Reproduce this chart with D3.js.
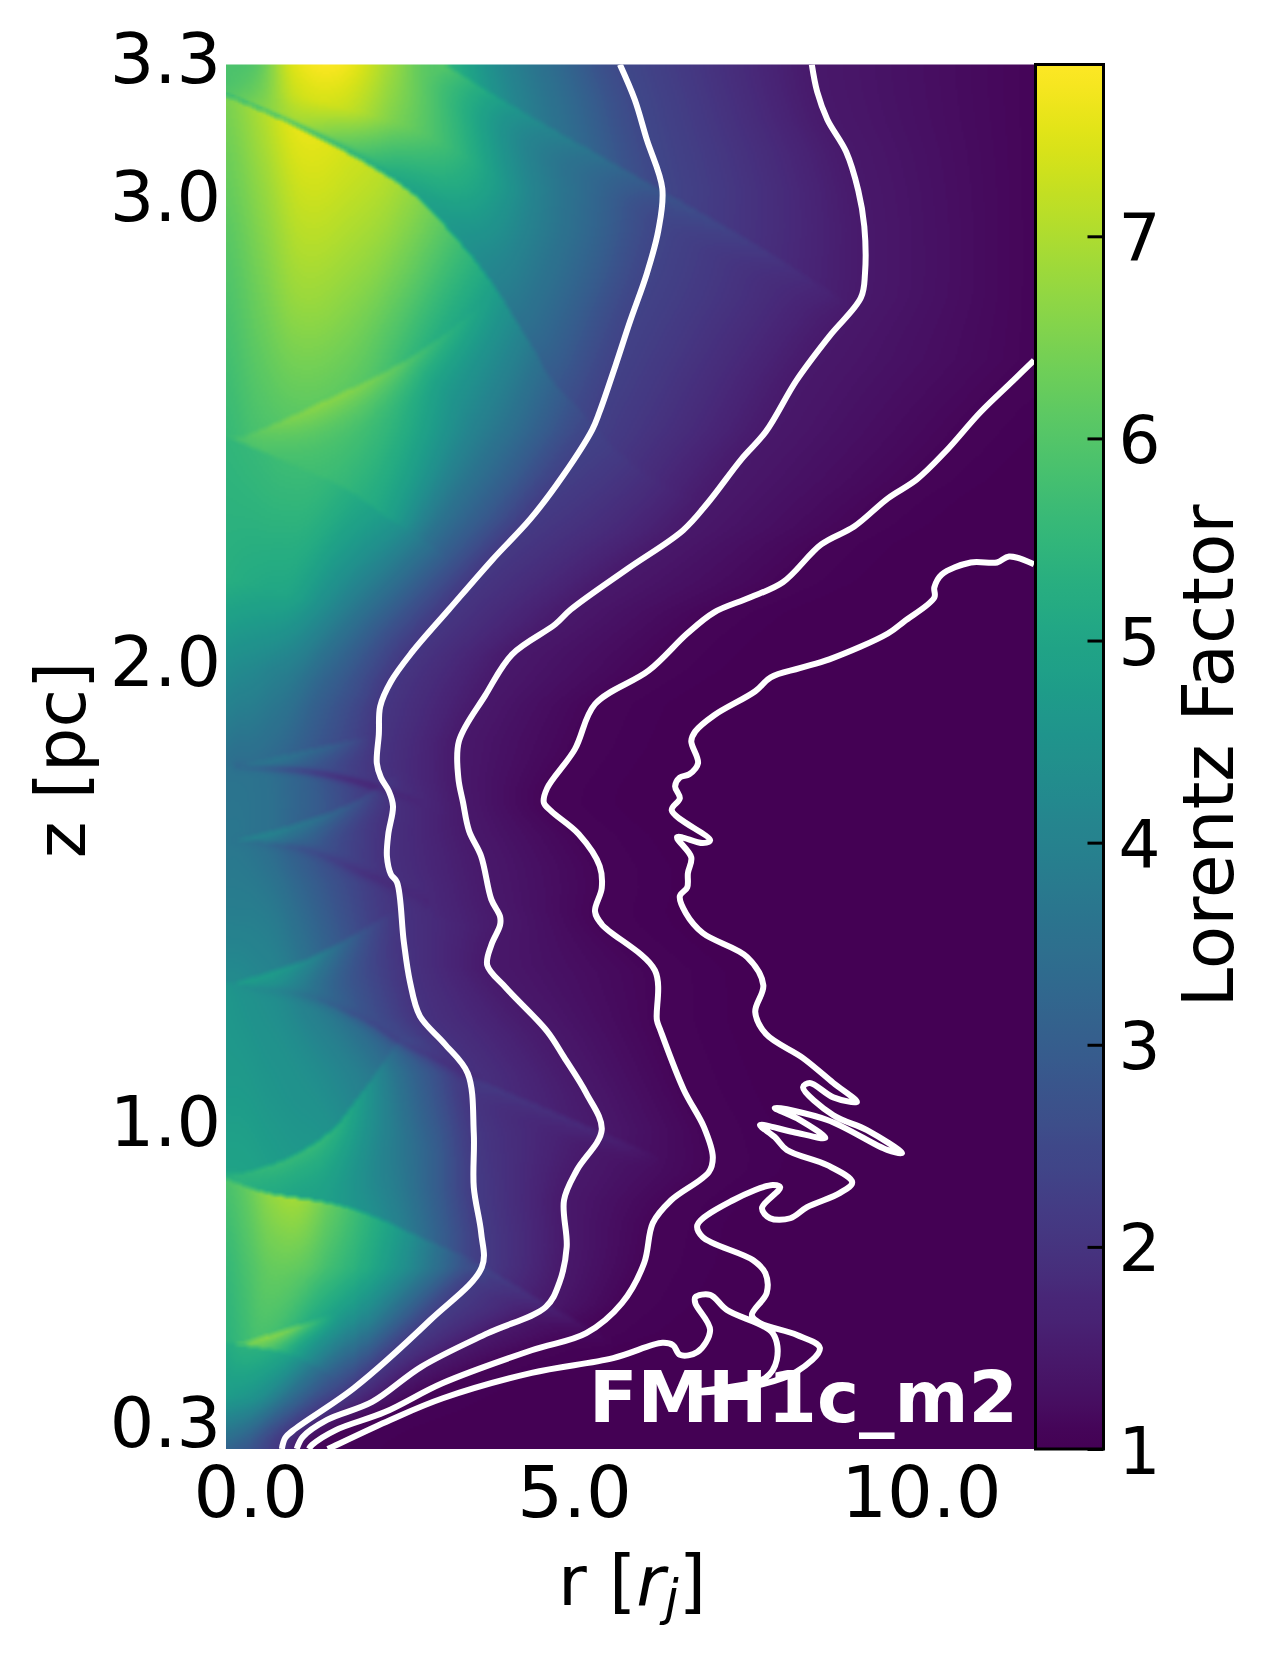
<!DOCTYPE html>
<html><head><meta charset="utf-8">
<script src="https://cdn.jsdelivr.net/npm/d3@7"></script>
<style>html,body{margin:0;padding:0;background:#fff}svg{display:block}text{font-family:"DejaVu Sans",sans-serif}</style>
</head><body><div id="chart"></div>
<script>
// ---------- axes ----------
const rDomain = [0, 12];
const zDomain = [0.3, 3.3];
const gammaDomain = [1, 7.85];
const rTickAt = [0.36, 5.17, 10.32];
const rTickLabels = ["0.0", "5.0", "10.0"];
const zTickAt = [3.317, 3.017, 2.01, 1.013, 0.361];
const zTickLabels = ["3.3", "3.0", "2.0", "1.0", "0.3"];
const gammaTicks = [1, 2, 3, 4, 5, 6, 7];
const modelName = "FMH1c_m2";

// ---------- Lorentz factor contours [r, z] ----------
const contour1 = [[5.85,3.30],[6.07,3.224],[6.25,3.137],[6.48,3.031],[6.42,2.94],[6.25,2.847],[6.00,2.743],[5.79,2.65],[5.55,2.548],[5.44,2.509],[5.01,2.41],[4.53,2.317],[3.95,2.226],[3.31,2.119],[2.76,2.026],[2.45,1.963],[2.29,1.909],[2.27,1.849],[2.24,1.786],[2.30,1.755],[2.42,1.725],[2.48,1.693],[2.41,1.632],[2.39,1.584],[2.45,1.545],[2.54,1.528],[2.64,1.40],[2.73,1.314],[2.88,1.238],[3.24,1.179],[3.59,1.114],[3.68,0.984],[3.68,0.867],[3.79,0.768],[3.80,0.694],[3.03,0.579],[1.90,0.432],[1.04,0.345],[0.88,0.324],[0.83,0.30]];
const contour2 = [[8.70,3.30],[8.78,3.241],[8.93,3.181],[9.21,3.111],[9.39,3.027],[9.48,2.949],[9.49,2.847],[9.43,2.795],[8.96,2.711],[8.47,2.615],[8.02,2.505],[7.65,2.444],[7.16,2.351],[6.79,2.291],[5.97,2.208],[5.12,2.119],[4.89,2.087],[4.25,2.022],[3.85,1.933],[3.46,1.834],[3.45,1.755],[3.52,1.701],[3.61,1.639],[3.79,1.584],[3.94,1.491],[4.07,1.454],[4.07,1.435],[3.94,1.392],[3.88,1.348],[4.16,1.299],[4.77,1.205],[5.02,1.149],[5.35,1.071],[5.58,0.991],[5.21,0.904],[5.02,0.839],[5.06,0.738],[4.95,0.66],[4.75,0.608],[3.89,0.551],[2.90,0.478],[2.17,0.402],[1.50,0.363],[1.14,0.326],[1.05,0.30]];
const contour3 = [[12.0,2.659],[11.69,2.615],[11.20,2.546],[10.69,2.462],[10.26,2.401],[9.83,2.36],[9.33,2.299],[8.84,2.26],[8.27,2.178],[7.78,2.145],[7.25,2.113],[6.85,2.067],[6.28,1.987],[5.48,1.914],[5.18,1.816],[4.77,1.732],[4.72,1.701],[4.83,1.682],[5.24,1.632],[5.55,1.563],[5.58,1.515],[5.48,1.465],[5.58,1.437],[6.37,1.337],[6.40,1.229],[6.45,1.208],[6.80,1.078],[7.10,0.997],[7.23,0.932],[7.17,0.90],[6.61,0.839],[6.34,0.79],[6.21,0.703],[5.88,0.616],[5.35,0.551],[4.54,0.514],[3.22,0.443],[2.36,0.38],[1.63,0.341],[1.28,0.309],[1.23,0.30]];
const contour4 = [[12.0,2.217],[11.63,2.234],[11.45,2.221],[11.06,2.221],[10.63,2.195],[10.52,2.167],[10.52,2.145],[10.07,2.093],[9.83,2.067],[8.96,2.011],[8.52,1.992],[8.09,1.972],[7.86,1.942],[7.25,1.89],[6.97,1.855],[6.91,1.834],[7.01,1.786],[6.88,1.762],[6.74,1.755],[6.67,1.736],[6.74,1.71],[6.62,1.684],[7.19,1.619],[7.08,1.613],[6.70,1.626],[6.91,1.582],[6.86,1.548],[6.85,1.517],[6.74,1.498],[6.83,1.461],[7.08,1.418],[7.74,1.366],[7.98,1.305],[7.86,1.247],[8.02,1.199],[8.57,1.147],[9.02,1.093],[9.37,1.052],[9.02,1.062],[8.67,1.093],[8.57,1.084],[9.02,1.023],[9.52,0.991],[10.04,0.941],[9.82,0.948],[8.93,1.013],[8.15,1.039],[8.52,1.013],[8.90,0.974],[8.42,0.987],[7.93,1.002],[8.15,0.976],[8.33,0.948],[8.93,0.915],[9.30,0.878],[9.12,0.855],[8.63,0.824],[8.38,0.80],[8.08,0.80],[7.96,0.822],[8.23,0.867],[8.12,0.872],[7.53,0.839],[7.00,0.785],[7.08,0.759],[7.83,0.709],[8.01,0.681],[8.03,0.638],[7.81,0.59],[7.93,0.573],[8.48,0.547],[8.82,0.519],[8.47,0.467],[7.71,0.432],[6.94,0.423],[8.01,0.454],[8.18,0.493],[8.12,0.551],[7.44,0.601],[7.19,0.634],[6.97,0.629],[6.97,0.616],[7.19,0.558],[7.00,0.51],[6.74,0.504],[6.64,0.525],[6.48,0.53],[5.75,0.497],[4.54,0.465],[3.22,0.41],[2.44,0.363],[1.57,0.304],[1.51,0.30]];

// ---------- shock fronts in the heat map [r, z] ----------
const shock0 = [[0,3.233],[0.89,3.176],[1.80,3.109],[2.70,3.029],[3.31,2.942],[3.92,2.834],[4.52,2.696],[5.12,2.572],[7.04,2.356],[12,2.226]];
const shock1 = [[0,2.494],[0.89,2.44],[1.80,2.379],[2.41,2.317],[3.33,2.226],[5.55,1.944],[12,1.706]];
const shock2 = [[0,1.782],[1.13,1.771],[2.03,1.745],[2.94,1.701],[3.85,1.662],[12,1.576]];
const shock3 = [[0,1.623],[1.13,1.604],[2.03,1.55],[2.94,1.491],[3.85,1.435],[12,1.273]];
const shock4 = [[0,1.312],[1.13,1.283],[2.03,1.229],[2.64,1.175],[3.68,1.106],[5.54,0.991],[12,0.839]];
const shock5 = [[0,0.887],[0.58,0.857],[1.57,0.833],[2.23,0.803],[2.90,0.759],[3.76,0.703],[4.68,0.623],[12,0.406]];
const shock6 = [[0,0.532],[0.91,0.508],[1.44,0.471],[1.99,0.406],[2.88,0.319],[12,0.304]];

// ---------- Lorentz factor across the jet, at fractions of r / r(contour1) ----------
const uColumns = [0, 0.08, 0.17, 0.28, 0.4, 0.55, 0.7, 0.85, 1];
// each row: position between the shock above (0) and the shock below (1), then the values
const cellTop = [[0,5.9,6.1,7.5,7.8,7.0,5.6,4.2,3.3,2.5],[0.5,5.9,6.3,7.3,7.3,6.5,5.5,4.1,3.2,2.4],[0.9,6.0,6.5,6.9,6.2,5.3,4.6,3.8,3.0,2.3],[1,5.2,5.3,5.4,5.3,5.0,4.5,3.7,2.9,2.3]];
const cell0 = [[0,6.5,7.0,7.6,7.4,6.9,5.7,4.4,3.2,2.4],[0.5,6.0,6.4,6.8,6.6,6.0,4.9,3.9,3.0,2.2],[1,5.6,5.8,5.8,5.7,5.4,4.8,3.6,2.8,2.1]];
const cell1 = [[0,5.5,5.6,5.7,5.6,5.2,4.6,3.7,2.8,2.1],[0.43,5.3,5.2,5.1,5.0,4.5,3.8,3.1,2.5,2.1],[0.69,4.4,4.3,4.2,4.0,3.8,3.3,2.9,2.5,2.1],[1,3.5,3.4,3.4,3.3,3.1,2.8,2.5,2.2,2.0]];
const cell2 = [[0,3.6,3.6,3.6,3.5,3.3,3.0,2.6,2.2,1.95],[1,3.7,3.7,3.6,3.5,3.2,2.9,2.5,2.2,1.95]];
const cell3 = [[0,3.7,3.7,3.6,3.4,3.1,2.8,2.5,2.2,2.0],[0.5,3.9,3.9,3.9,3.8,3.5,3.1,2.7,2.3,2.0],[1,4.3,4.3,4.2,4.1,3.8,3.3,2.8,2.4,2.0]];
const cell4 = [[0,4.6,4.5,4.4,4.3,4.0,3.7,3.2,2.7,2.0],[0.5,4.7,4.7,4.6,4.5,4.4,4.1,3.7,3.0,2.2],[1,5.0,5.0,4.9,4.8,4.8,4.5,3.9,3.0,2.2]];
const cell5 = [[0,5.9,6.2,6.7,6.9,6.3,5.5,4.6,3.4,2.3],[0.5,5.6,5.9,6.2,6.1,5.6,4.9,4.0,3.0,2.2],[1,5.4,5.6,5.8,5.6,5.0,4.1,3.2,2.6,2.1]];
const cell6 = [[0,5.2,5.4,5.4,5.2,4.8,3.9,3.1,2.6,2.1],[0.5,4.8,4.7,4.6,4.4,4.0,3.4,2.9,2.4,2.1],[1,3.1,3.1,3.0,2.9,2.8,2.6,2.4,2.2,2.1]];
const contour2Gamma = 1.45, contour3Gamma = 1.08;

// ---------- thin ridges and dark lines: [r, z, change in Lorentz factor] ----------
const ridgeTop = [[3.25,3.30,0.5],[4.52,3.189,0.5],[5.85,3.079,0.45],[7.90,2.908,0.25],[9.41,2.767,0]];
const ridge1 = [[0.21,2.494,0.2],[1.10,2.55,0.5],[2.70,2.665,0.45],[3.92,2.797,0]];
const ridge2 = [[0.15,1.782,0.3],[1.43,1.825,0.5],[2.15,1.849,0]];
const ridge3 = [[0.15,1.623,0.5],[1.13,1.662,0.7],[1.92,1.708,0.45],[2.58,1.771,0]];
const ridge4 = [[0.09,1.312,0.6],[1.13,1.361,0.8],[1.84,1.413,0.45],[2.58,1.478,0]];
const ridge5 = [[0.25,0.902,0.5],[0.88,0.932,0.9],[1.51,0.989,1.0],[1.97,1.069,0.8],[2.58,1.195,0.1]];
const ridge6 = [[0.21,0.532,0.7],[0.91,0.564,1.0],[1.63,0.597,0]];
const dark2 = [[0.15,1.78,-0.3],[1.13,1.771,-0.8],[2.03,1.745,-0.5],[2.94,1.701,0]];
const dark3 = [[0.15,1.622,-0.1],[1.13,1.604,-0.3],[2.03,1.55,-0.3],[2.94,1.491,-0.1]];
const dark4 = [[0.1,1.31,-0.1],[1.13,1.283,-0.3],[2.03,1.229,-0.3],[2.64,1.175,-0.3],[3.68,1.106,-0.15]];
const edge4 = [[3.68,1.106,0.3],[5.54,0.991,0.3],[6.5,0.93,0]];
const edge5 = [[3.76,0.703,0.3],[4.68,0.623,0.3],[5.8,0.53,0]];

// ---------- layout ----------
const W = 1276, H = 1658, M = {l:226, r:1034, t:64.5, b:1449};
const FS = 70, TICK_FS = 72;
const x = d3.scaleLinear().domain(rDomain).range([M.l, M.r]);
const y = d3.scaleLinear().domain(zDomain).range([M.b, M.t]);
const color = d3.scaleSequential(d3.interpolateViridis).domain(gammaDomain);
const gScale = d3.scaleLinear().domain(gammaDomain).range([M.b, M.t]);

const svg = d3.select("#chart").append("svg").attr("width", W).attr("height", H).attr("viewBox", `0 0 ${W} ${H}`);
const defs = svg.append("defs");
defs.append("clipPath").attr("id","plot").append("rect").attr("x",M.l).attr("y",M.t).attr("width",M.r-M.l).attr("height",M.b-M.t);

// ---------- heat map ----------
function lutColor(){
  const n = 1024, lut = new Uint8Array(n*3);
  for (let i=0;i<n;i++){ const c = d3.rgb(color(gammaDomain[0]+(gammaDomain[1]-gammaDomain[0])*i/(n-1))); lut[i*3]=c.r; lut[i*3+1]=c.g; lut[i*3+2]=c.b; }
  return lut;
}
function rAtZ(line, z){
  for (let i=0;i<line.length-1;i++){
    const a=line[i], b=line[i+1];
    if ((z<=a[1]&&z>=b[1])||(z>=a[1]&&z<=b[1])){
      const t = a[1]===b[1]?0:(z-a[1])/(b[1]-a[1]);
      return a[0]+(b[0]-a[0])*t;
    }
  }
  return line[0][0];
}
function cr(p0,p1,p2,p3,t){
  return 0.5*((2*p1)+(-p0+p2)*t+(2*p0-5*p1+4*p2-p3)*t*t+(-p0+3*p1-3*p2+p3)*t*t*t);
}
// round off a polyline so the drawn fronts have no corners
function rounded(pts, sub=8){
  const out=[], n=pts.length, dim=pts[0].length;
  for (let i=0;i<n-1;i++){
    const a=pts[Math.max(0,i-1)], b=pts[i], c=pts[i+1], d=pts[Math.min(n-1,i+2)];
    for (let s=0;s<sub;s++){ const t=s/sub; out.push(d3.range(dim).map(k=>cr(a[k],b[k],c[k],d[k],t))); }
  }
  out.push(pts[n-1].slice());
  return out;
}
function drawHeat(){
  const step = 2;
  const nx = Math.round((M.r-M.l)/step), ny = Math.round((M.b-M.t)/step);
  const cv = document.createElement("canvas"); cv.width=nx; cv.height=ny;
  const ctx = cv.getContext("2d"), img = ctx.createImageData(nx,ny), lut = lutColor();
  const shocks = [shock0,shock1,shock2,shock3,shock4,shock5,shock6].map(s=>{
    const q=rounded(s).sort((a,b)=>a[0]-b[0]);
    return d3.scaleLinear().domain(q.map(p=>p[0])).range(q.map(p=>p[1]));
  });
  const cells = [cellTop,cell0,cell1,cell2,cell3,cell4,cell5,cell6];
  const rs = d3.range(nx).map(i=>x.invert(M.l+(i+0.5)*step));
  const zs = d3.range(ny).map(j=>y.invert(M.t+(j+0.5)*step));
  const shockZ = shocks.map(s=>rs.map(r=>s(r)));
  const extra = new Float32Array(nx*ny);
  const ridges = [
    {p:ridgeTop,w:35,below:true},{p:ridge1,w:48,below:true,stop:1},{p:ridge2,w:28,below:true,stop:2},{p:ridge3,w:32,below:true,stop:3},
    {p:ridge4,w:42,below:true,stop:4},{p:ridge5,w:75,below:true,stop:5},{p:ridge6,w:26,below:true,stop:6},
    {p:dark2,w:8},{p:dark3,w:12},{p:dark4,w:12},{p:edge4,w:25,below:true},{p:edge5,w:25,below:true}];
  ridges.forEach(rd=>{
    const pts = rounded(rd.p).map(q=>[(x(q[0])-M.l)/step,(y(q[1])-M.t)/step,q[2]]), w = rd.w/step;
    const x0=Math.max(0,Math.floor(d3.min(pts,q=>q[0])-w)), x1=Math.min(nx-1,Math.ceil(d3.max(pts,q=>q[0])+w));
    const y0=Math.max(0,Math.floor(d3.min(pts,q=>q[1])-w)), y1=Math.min(ny-1,Math.ceil(d3.max(pts,q=>q[1])+w));
    for (let j=y0;j<=y1;j++) for (let i=x0;i<=x1;i++){
      if (rd.stop!==undefined && zs[j]<shockZ[rd.stop][i]) continue;
      let best=1e9, amp=0, qyBest=0;
      for (let k=0;k<pts.length-1;k++){
        const a=pts[k], b=pts[k+1], dx=b[0]-a[0], dy=b[1]-a[1], l=dx*dx+dy*dy;
        let t=l>0?((i-a[0])*dx+(j-a[1])*dy)/l:0; t=Math.max(0,Math.min(1,t));
        const qx=a[0]+dx*t, qy=a[1]+dy*t, d=Math.hypot(i-qx,j-qy);
        if (d<best){best=d; amp=a[2]+(b[2]-a[2])*t; qyBest=qy;}
      }
      if (best<w && (!rd.below || j>=qyBest)){ const s=1-best/w; extra[j*nx+i]+=amp*s*s; }
    }
  });
  const field = new Float32Array(nx*ny);
  const pick=(row,idx)=>row[1+Math.max(0,Math.min(uColumns.length-1,idx))];
  for (let j=0;j<ny;j++){
    const z=zs[j];
    const c1=rAtZ(contour1,z), c2=rAtZ(contour2,z);
    const c3= z>contour3[0][1]? rDomain[1] : rAtZ(contour3,z);
    for (let i=0;i<nx;i++){
      const r=rs[i];
      let k=0; while(k<7 && z<shockZ[k][i]) k++;
      const upper = k===0? zDomain[1]:shockZ[k-1][i], lower = k===7? zDomain[0]:shockZ[k][i];
      const f = upper>lower? (upper-z)/(upper-lower):0;
      const rows=cells[k];
      let a=0; while(a<rows.length-2 && f>rows[a+1][0]) a++;
      const ra=rows[a], rb=rows[a+1], tf=Math.max(0,Math.min(1,(f-ra[0])/(rb[0]-ra[0])));
      const u=Math.min(1,r/c1);
      let m=0; while(m<uColumns.length-2 && u>uColumns[m+1]) m++;
      const tu=(u-uColumns[m])/(uColumns[m+1]-uColumns[m]);
      const va=cr(pick(ra,m-1),pick(ra,m),pick(ra,m+1),pick(ra,m+2),tu);
      const vb=cr(pick(rb,m-1),pick(rb,m),pick(rb,m+1),pick(rb,m+2),tu);
      let g=va+(vb-va)*tf;
      if (r>c1){
        if (r<c2) g=g+(contour2Gamma-g)*(r-c1)/(c2-c1);
        else if (r<c3) g=contour2Gamma+(contour3Gamma-contour2Gamma)*(r-c2)/(c3-c2);
        else g=contour3Gamma+(gammaDomain[0]-contour3Gamma)*Math.min(1,(r-c3)/1.5);
      }
      field[j*nx+i]=g+extra[j*nx+i];
    }
  }
  // light softening, as the simulation grid shows in the picture
  for (let j=0;j<ny;j++) for (let i=0;i<nx;i++){
    let s=0,n=0;
    for (let b=-1;b<=1;b++) for (let a=-1;a<=1;a++){
      const ii=i+a, jj=j+b; if(ii<0||jj<0||ii>=nx||jj>=ny) continue;
      s+=field[jj*nx+ii]; n++;
    }
    const g=s/n;
    const t=Math.max(0,Math.min(1023,Math.round((g-gammaDomain[0])/(gammaDomain[1]-gammaDomain[0])*1023)));
    const o=(j*nx+i)*4;
    img.data[o]=lut[t*3]; img.data[o+1]=lut[t*3+1]; img.data[o+2]=lut[t*3+2]; img.data[o+3]=255;
  }
  ctx.putImageData(img,0,0);
  svg.append("image").attr("x",M.l).attr("y",M.t).attr("width",M.r-M.l).attr("height",M.b-M.t)
     .attr("preserveAspectRatio","none").attr("href",cv.toDataURL("image/png"));
}
drawHeat();

// ---------- contours ----------
const line = d3.line().x(d=>x(d[0])).y(d=>y(d[1])).curve(d3.curveCatmullRom.alpha(0.5));
svg.append("g").attr("clip-path","url(#plot)").selectAll("path")
  .data([contour1,contour2,contour3,contour4]).join("path")
  .attr("d",line).attr("fill","none").attr("stroke","#fff").attr("stroke-width",6).attr("stroke-linejoin","round");

// ---------- model label ----------
svg.append("text").attr("x",x(5.39)).attr("y",1422).attr("fill","#fff").attr("font-size",71).attr("font-weight","bold").text(modelName);

// ---------- axes ----------
const xAxis = d3.axisBottom(x).tickValues(rTickAt).tickFormat((d,i)=>rTickLabels[i]).tickSize(0).tickPadding(0);
const gx = svg.append("g").attr("transform",`translate(0,${M.b})`).call(xAxis);
gx.select(".domain").remove();
gx.selectAll("text").attr("font-size",TICK_FS).attr("fill","#000").attr("dy",null).attr("y",68);
const yAxis = d3.axisLeft(y).tickValues(zTickAt).tickFormat((d,i)=>zTickLabels[i]).tickSize(0).tickPadding(5);
const gy = svg.append("g").attr("transform",`translate(${M.l},0)`).call(yAxis);
gy.select(".domain").remove();
gy.selectAll("text").attr("font-size",70).attr("fill","#000").attr("dy","0.365em");

const xl = svg.append("text").attr("x",632).attr("y",1605).attr("text-anchor","middle").attr("font-size",FS).attr("fill","#000");
xl.append("tspan").text("r [");
xl.append("tspan").attr("font-style","italic").text("r");
xl.append("tspan").attr("font-style","italic").attr("font-size",FS*0.7).attr("dy",10).text("j");
xl.append("tspan").attr("dy",-10).text("]");
svg.append("text").attr("transform","translate(85,760) rotate(-90)").attr("text-anchor","middle").attr("font-size",FS).attr("fill","#000").text("z [pc]");

// ---------- colour bar ----------
const grad = defs.append("linearGradient").attr("id","cb").attr("x1",0).attr("x2",0).attr("y1",1).attr("y2",0);
d3.range(0,1.0001,1/64).forEach(t=>grad.append("stop").attr("offset",t).attr("stop-color",color(gammaDomain[0]+t*(gammaDomain[1]-gammaDomain[0]))));
const cbL=1035.5, cbR=1103.5;
svg.append("rect").attr("x",cbL).attr("y",M.t).attr("width",cbR-cbL).attr("height",M.b-M.t).attr("fill","url(#cb)");
const cAxis = d3.axisRight(gScale).tickValues(gammaTicks).tickFormat(d3.format("d")).tickSize(-16).tickPadding(15);
const gc = svg.append("g").attr("transform",`translate(${cbR},0)`).call(cAxis);
gc.select(".domain").remove();
gc.selectAll("line").attr("stroke","#000").attr("stroke-width",3);
gc.selectAll("text").attr("font-size",66).attr("fill","#000").attr("dy","0.365em");
svg.append("rect").attr("x",cbL).attr("y",M.t).attr("width",cbR-cbL).attr("height",M.b-M.t).attr("fill","none").attr("stroke","#000").attr("stroke-width",3);
svg.append("text").attr("transform","translate(1233,756) rotate(-90)").attr("text-anchor","middle").attr("font-size",71).attr("fill","#000").text("Lorentz Factor");
</script></body></html>
